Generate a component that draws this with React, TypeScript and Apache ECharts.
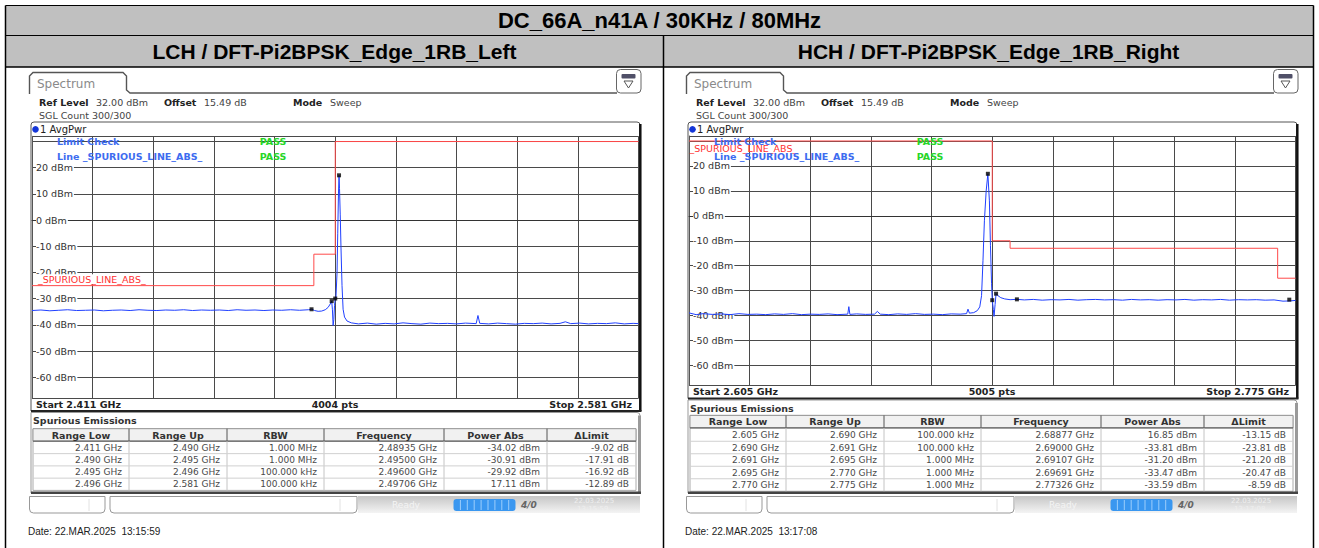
import React, { useEffect, useRef } from "react";
import * as echarts from "echarts";

// ---------------- data ----------------
const MAIN_TITLE = "DC_66A_n41A / 30KHz / 80MHz";
const PANEL_TITLES = ["LCH / DFT-Pi2BPSK_Edge_1RB_Left", "HCH / DFT-Pi2BPSK_Edge_1RB_Right"];
const REF_LEVEL = 32;
const BOTTOM_LEVEL = -68;
const LEFT_SPAN = [2.411, 2.581];
const RIGHT_SPAN = [2.605, 2.775];
const LEFT_PTS = "4004 pts";
const RIGHT_PTS = "5005 pts";
const LEFT_DATE = "Date: 22.MAR.2025  13:15:59";
const RIGHT_DATE = "Date: 22.MAR.2025  13:17:08";
const LEFT_STAMP = ["22.03.2025", "13:15:59"];
const RIGHT_STAMP = ["22.03.2025", "13:17:08"];

const TABLE_HEADERS = ["Range Low", "Range Up", "RBW", "Frequency", "Power Abs", "\u0394Limit"];

const leftRangeLow = ["2.411 GHz", "2.490 GHz", "2.495 GHz", "2.496 GHz"];
const leftRangeUp = ["2.490 GHz", "2.495 GHz", "2.496 GHz", "2.581 GHz"];
const leftRbw = ["1.000 MHz", "1.000 MHz", "100.000 kHz", "100.000 kHz"];
const leftFreq = ["2.48935 GHz", "2.49500 GHz", "2.49600 GHz", "2.49706 GHz"];
const leftPower = ["-34.02 dBm", "-30.91 dBm", "-29.92 dBm", "17.11 dBm"];
const leftDelta = ["-9.02 dB", "-17.91 dB", "-16.92 dB", "-12.89 dB"];

const rightRangeLow = ["2.605 GHz", "2.690 GHz", "2.691 GHz", "2.695 GHz", "2.770 GHz"];
const rightRangeUp = ["2.690 GHz", "2.691 GHz", "2.695 GHz", "2.770 GHz", "2.775 GHz"];
const rightRbw = ["100.000 kHz", "100.000 kHz", "1.000 MHz", "1.000 MHz", "1.000 MHz"];
const rightFreq = ["2.68877 GHz", "2.69000 GHz", "2.69107 GHz", "2.69691 GHz", "2.77326 GHz"];
const rightPower = ["16.85 dBm", "-33.81 dBm", "-31.20 dBm", "-33.47 dBm", "-33.59 dBm"];
const rightDelta = ["-13.15 dB", "-23.81 dB", "-21.20 dB", "-20.47 dB", "-8.59 dB"];

const leftLimit = [
  [2.411, -25], [2.490, -25], [2.490, -13], [2.496, -13], [2.496, 30], [2.581, 30],
];
const rightLimit = [
  [2.605, 30], [2.690, 30], [2.690, -10], [2.695, -10], [2.695, -13], [2.770, -13], [2.770, -25], [2.775, -25],
];

const leftTrace = [
  [2.411, -34.5], [2.4135, -34.3], [2.416, -34.6], [2.4185, -34.4], [2.421, -34.2], [2.4235, -34.5],
  [2.426, -34.4], [2.4285, -34.3], [2.431, -34.6], [2.4335, -34.4], [2.436, -34.3], [2.4385, -34.5],
  [2.441, -34.2], [2.4435, -34.4], [2.446, -34.5], [2.4485, -34.3], [2.451, -34.4], [2.4535, -34.2],
  [2.456, -34.5], [2.4585, -34.3], [2.461, -34.4], [2.4635, -34.3], [2.466, -34.5], [2.4685, -34.2],
  [2.471, -34.4], [2.4735, -34.3], [2.476, -34.5], [2.4785, -34.3], [2.481, -34.4], [2.4835, -34.2],
  [2.486, -34.4], [2.4885, -34.2], [2.4894, -34.0], [2.4902, -34.5], [2.4912, -34.8], [2.4922, -34.7],
  [2.4932, -34.2], [2.494, -33.3], [2.4946, -32.0], [2.495, -30.9], [2.4952, -34.0], [2.4954, -40.2],
  [2.4956, -38.0], [2.4958, -32.5], [2.496, -29.9], [2.4962, -29.5], [2.4965, -20.0], [2.4967, -5.0],
  [2.4969, 10.0], [2.49706, 17.1], [2.4972, 12.0], [2.4974, 2.0], [2.4976, -10.0], [2.4979, -25.0],
  [2.4982, -34.0], [2.4986, -37.0], [2.4993, -38.5], [2.5005, -39.2], [2.5025, -39.6], [2.505, -39.3],
  [2.5075, -39.7], [2.510, -39.4], [2.5125, -39.6], [2.515, -39.2], [2.5175, -39.5], [2.520, -39.7],
  [2.5225, -39.3], [2.525, -39.5], [2.5275, -39.4], [2.530, -39.6], [2.5325, -39.3], [2.5355, -39.5],
  [2.536, -36.4], [2.5365, -39.4], [2.539, -39.6], [2.5415, -39.3], [2.544, -39.5], [2.5465, -39.7],
  [2.549, -39.4], [2.5515, -39.5], [2.554, -39.3], [2.5565, -39.6], [2.559, -39.4], [2.5605, -38.8],
  [2.562, -39.5], [2.5645, -39.3], [2.567, -39.6], [2.5695, -39.4], [2.572, -39.5], [2.5745, -39.2],
  [2.577, -39.6], [2.5795, -39.4], [2.581, -39.5],
];

const rightTrace = [
  [2.605, -38.9], [2.607, -39.6], [2.609, -39.2], [2.6115, -39.5], [2.614, -39.3], [2.6165, -39.6],
  [2.619, -39.2], [2.6215, -39.5], [2.624, -39.4], [2.6265, -39.6], [2.629, -39.3], [2.6315, -39.5],
  [2.634, -39.2], [2.6365, -39.6], [2.639, -39.4], [2.6415, -39.5], [2.644, -39.3], [2.6465, -39.6],
  [2.6495, -39.4], [2.6498, -36.4], [2.6501, -39.5], [2.652, -39.3], [2.6545, -39.5], [2.657, -39.4],
  [2.6578, -38.3], [2.6586, -39.4], [2.661, -39.6], [2.6635, -39.3], [2.666, -39.5], [2.6685, -39.2],
  [2.671, -39.5], [2.6735, -39.4], [2.676, -39.6], [2.6785, -39.3], [2.681, -39.4], [2.6828, -39.2],
  [2.6832, -37.4], [2.6836, -39.0], [2.6848, -38.8], [2.6858, -38.0], [2.6865, -36.5], [2.687, -32.0],
  [2.6874, -18.0], [2.6878, -2.0], [2.6883, 10.0], [2.68877, 16.85], [2.6892, 6.0], [2.6895, -12.0],
  [2.6898, -27.0], [2.69, -33.8], [2.6903, -37.5], [2.6905, -40.3], [2.6908, -35.5], [2.69107, -31.2],
  [2.6916, -32.0], [2.6924, -32.8], [2.6935, -33.3], [2.695, -33.6], [2.69691, -33.47], [2.699, -33.7],
  [2.7015, -33.5], [2.704, -33.8], [2.7065, -33.6], [2.709, -33.7], [2.7115, -33.5], [2.714, -33.8],
  [2.7165, -33.6], [2.719, -33.5], [2.7215, -33.7], [2.724, -33.6], [2.7265, -33.8], [2.729, -33.5],
  [2.7315, -33.7], [2.734, -33.6], [2.7365, -33.8], [2.739, -33.6], [2.7415, -33.7], [2.744, -33.5],
  [2.7465, -33.8], [2.749, -33.6], [2.7515, -33.7], [2.754, -33.5], [2.7565, -33.8], [2.759, -33.6],
  [2.7615, -33.7], [2.764, -33.6], [2.7665, -33.8], [2.769, -33.7], [2.7715, -34.2], [2.7735, -34.1],
  [2.775, -33.9],
];

// ---------------- layout helpers ----------------
const RS_FONT = '"DejaVu Sans"';
const ARIAL = '"Liberation Sans", Arial';

function txt(x: number, y: number, text: string, o: any = {}) {
  const size = o.size ?? 9.5;
  const align = o.align ?? "left";
  const va = o.va ?? "middle";
  const style: any = {
    text,
    fill: o.color ?? "#333",
    font: `${o.italic ? "italic " : ""}${o.bold ? "bold " : ""}${size}px ${o.family ?? RS_FONT}`,
    align,
    verticalAlign: va,
    textAlign: align,
    textVerticalAlign: va,
  };
  if (o.bg) {
    style.backgroundColor = o.bg;
    style.padding = [0, 1];
  }
  return { type: "text", x, y, z: o.z ?? 20, silent: true, style };
}
function ln(x1: number, y1: number, x2: number, y2: number, stroke: string, lineWidth = 1, z = 15) {
  return { type: "line", z, silent: true, shape: { x1, y1, x2, y2 }, style: { stroke, lineWidth } };
}
function rc(x: number, y: number, width: number, height: number, style: any, r: any = 0, z = 5) {
  return { type: "rect", z, silent: true, shape: { x, y, width, height, r }, style };
}

type Panel = {
  ox: number;
  span: number[];
  trace: number[][];
  limit: number[][];
  cols: string[][];
  pts: string;
  date: string;
  stamp: string[];
  gridTop: number;
  gridBottom: number;
  startY: number;
  frameBottom: number;
  seY: number;
  headerY: number;
  rowY0: number;
  rowH: number;
  red: { x: number; y: number; bg: boolean };
};

const panels: Panel[] = [
  {
    ox: 0,
    span: LEFT_SPAN,
    trace: leftTrace,
    limit: leftLimit,
    cols: [leftRangeLow, leftRangeUp, leftRbw, leftFreq, leftPower, leftDelta],
    pts: LEFT_PTS,
    date: LEFT_DATE,
    stamp: LEFT_STAMP,
    gridTop: 136.3,
    gridBottom: 398.3,
    startY: 404,
    frameBottom: 411,
    seY: 420,
    headerY: 435,
    rowY0: 447.5,
    rowH: 12.25,
    red: { x: 37, y: 279.3, bg: true },
  },
  {
    ox: 657,
    span: RIGHT_SPAN,
    trace: rightTrace,
    limit: rightLimit,
    cols: [rightRangeLow, rightRangeUp, rightRbw, rightFreq, rightPower, rightDelta],
    pts: RIGHT_PTS,
    date: RIGHT_DATE,
    stamp: RIGHT_STAMP,
    gridTop: 136,
    gridBottom: 385.5,
    startY: 391.8,
    frameBottom: 398.5,
    seY: 408.3,
    headerY: 421.7,
    rowY0: 435,
    rowH: 12.5,
    red: { x: 32.5, y: 148.3, bg: false },
  },
];

const COLX = [33, 129, 227, 324, 444, 547, 636];

function panelGraphics(p: Panel) {
  const ox = p.ox;
  const els: any[] = [];
  // tab
  els.push({
    type: "polyline",
    z: 6,
    silent: true,
    shape: {
      points: [
        [ox + 29.5, 94], [ox + 29.5, 76], [ox + 33, 72.5], [ox + 123, 72.5], [ox + 126.5, 76],
        [ox + 126.5, 90], [ox + 130, 93], [ox + 617, 93],
      ],
    },
    style: { stroke: "#555", lineWidth: 1.4, fill: null },
  });
  els.push(txt(ox + 37, 83.5, "Spectrum", { size: 12, color: "#8a8a8a" }));
  // icon
  els.push(rc(ox + 616.5, 69.5, 24.5, 23.5, { fill: "#fff", stroke: "#666", lineWidth: 1 }, 4, 6));
  els.push(rc(ox + 621.5, 74, 14, 4.5, { fill: "#505068" }, 1, 7));
  els.push({
    type: "polygon", z: 7, silent: true,
    shape: { points: [[ox + 624, 81], [ox + 633, 81], [ox + 628.5, 88]] },
    style: { fill: "none", stroke: "#555", lineWidth: 1 },
  });
  // header texts
  els.push(txt(ox + 39, 102.7, "Ref Level", { bold: true, color: "#222" }));
  els.push(txt(ox + 96, 102.7, "32.00 dBm", { color: "#444" }));
  els.push(txt(ox + 164, 102.7, "Offset", { bold: true, color: "#222" }));
  els.push(txt(ox + 204, 102.7, "15.49 dB", { color: "#444" }));
  els.push(txt(ox + 293, 102.7, "Mode", { bold: true, color: "#222" }));
  els.push(txt(ox + 330, 102.7, "Sweep", { color: "#444" }));
  els.push(txt(ox + 39, 115, "SGL Count 300/300", { color: "#444" }));
  // plot frame
  els.push(rc(ox + 31, 122, 609, p.frameBottom - 122, { fill: "none", stroke: "#555", lineWidth: 1 }, [3, 3, 0, 0], 6));
  els.push(ln(ox + 640.3, 124, ox + 640.3, p.frameBottom, "#111", 2.5, 16));
  els.push(ln(ox + 31, p.frameBottom, ox + 641.5, p.frameBottom, "#222", 2, 16));
  els.push({ type: "circle", z: 20, silent: true, shape: { cx: ox + 35.5, cy: 129.3, r: 3.3 }, style: { fill: "#1436d8" } });
  els.push(txt(ox + 40, 129.3, "1 AvgPwr", { color: "#222", size: 10 }));
  // in-grid annotations
  els.push(txt(ox + p.red.x, p.red.y, "_SPURIOUS_LINE_ABS_", { color: "#ff3030", bg: p.red.bg ? "#fff" : undefined, z: 22 }));
  els.push(txt(ox + 57, 141.7, "Limit Check", { color: "#3d6cf0", bold: true, z: 23 }));
  els.push(txt(ox + 57, 156, "Line _SPURIOUS_LINE_ABS_", { color: "#3d6cf0", bold: true, z: 23 }));
  els.push(txt(ox + 259.7, 141.7, "PASS", { color: "#27d627", bold: true, z: 23 }));
  els.push(txt(ox + 259.7, 156, "PASS", { color: "#27d627", bold: true, z: 23 }));
  // start / stop row
  els.push(txt(ox + 36, p.startY, `Start ${p.span[0].toFixed(3)} GHz`, { bold: true, color: "#222" }));
  els.push(txt(ox + 335, p.startY, p.pts, { bold: true, color: "#222", align: "center" }));
  els.push(txt(ox + 632, p.startY, `Stop ${p.span[1].toFixed(3)} GHz`, { bold: true, color: "#222", align: "right" }));
  // table frame
  const tfTop = p.frameBottom + 1.5;
  els.push(rc(ox + 31, tfTop, 609, 493 - tfTop, { fill: "#fff", stroke: "#999", lineWidth: 1 }, [0, 3, 0, 0], 4));
  els.push(ln(ox + 639.5, tfTop + 3, ox + 639.5, 493, "#9a9a9a", 3, 8));
  els.push(ln(ox + 31, 492.8, ox + 641, 492.8, "#444", 2.5, 8));
  els.push(txt(ox + 33, p.seY, "Spurious Emissions", { bold: true, color: "#333" }));
  const hTop = p.headerY - 6.3;
  const hBot = p.headerY + 6.2;
  const nRows = p.cols[0].length;
  const tBot = p.rowY0 + (nRows - 0.5) * p.rowH;
  els.push(rc(ox + COLX[0], hTop, COLX[6] - COLX[0], tBot - hTop, { fill: "#fff", stroke: "#aaa", lineWidth: 1 }, 0, 7));
  els.push(rc(ox + COLX[0], hTop, COLX[6] - COLX[0], hBot - hTop, { fill: "#f1f1f1", stroke: "#999", lineWidth: 1 }, 0, 8));
  els.push(ln(ox + COLX[0], hBot, ox + COLX[6], hBot, "#666", 1.2, 9));
  for (let i = 1; i < 6; i++) {
    els.push(ln(ox + COLX[i], hTop, ox + COLX[i], hBot, "#555", 1, 9));
    els.push(ln(ox + COLX[i], hBot, ox + COLX[i], tBot, "#c4c4c4", 1, 9));
  }
  for (let i = 0; i < 6; i++) {
    els.push(txt(ox + (COLX[i] + COLX[i + 1]) / 2, p.headerY, TABLE_HEADERS[i], { bold: true, color: "#333", align: "center" }));
  }
  for (let r = 0; r < nRows; r++) {
    const y = p.rowY0 + r * p.rowH;
    if (r < nRows - 1) els.push(ln(ox + COLX[0], y + p.rowH / 2, ox + COLX[6], y + p.rowH / 2, "#d0d0d0", 1, 9));
    for (let c = 0; c < 6; c++) {
      els.push(txt(ox + COLX[c + 1] - 7, y, p.cols[c][r], { color: "#4a4a4a", align: "right", size: 9 }));
    }
  }
  // status bar
  els.push(rc(ox + 29.5, 496.5, 75.5, 16.5, { fill: "#fff", stroke: "#999", lineWidth: 1 }, [0, 0, 4, 4], 6));
  els.push(ln(ox + 89, 499, ox + 89, 511, "#e2e2e2", 1, 7));
  els.push(rc(ox + 110, 496.5, 247, 16.5, { fill: "#fff", stroke: "#999", lineWidth: 1 }, [0, 0, 4, 4], 6));
  els.push(ln(ox + 340, 499, ox + 340, 511, "#e2e2e2", 1, 7));
  els.push(rc(ox + 358, 496, 282, 17, {
    fill: { type: "linear", x: 0, y: 0, x2: 0, y2: 1, colorStops: [{ offset: 0, color: "#c6c6c6" }, { offset: 1, color: "#f4f4f4" }] },
  }, 0, 5));
  els.push(txt(ox + 392, 505, "Ready", { color: "#f4f4f4", size: 9 }));
  els.push(rc(ox + 453.5, 499, 62, 12, { fill: "#3a97f0" }, 3, 7));
  for (let i = 1; i < 9; i++) {
    els.push(ln(ox + 453.5 + i * 6.9, 500, ox + 453.5 + i * 6.9, 510, "#9ccdfb", 1, 8));
  }
  els.push(txt(ox + 521, 505, "4/0", { color: "#666", bold: true, italic: true, size: 9 }));
  els.push(txt(ox + 574, 501, p.stamp[0], { color: "#efefef", size: 7 }));
  els.push(txt(ox + 577, 509, p.stamp[1], { color: "#efefef", size: 7 }));
  // date
  els.push(txt(ox + 28, 531.7, p.date, { family: ARIAL, size: 10, color: "#222" }));
  return els;
}

function buildOption() {
  const graphics: any[] = [];
  // title table
  graphics.push(rc(5.5, 5.5, 1308, 61.5, { fill: "#c0c0c0" }, 0, 1));
  graphics.push(ln(5.5, 5.5, 1313.5, 5.5, "#000", 1.2, 3));
  graphics.push(ln(5.5, 35.5, 1313.5, 35.5, "#000", 1.2, 3));
  graphics.push(ln(5.5, 67, 1313.5, 67, "#000", 1.5, 3));
  graphics.push(ln(5.5, 5.5, 5.5, 548, "#000", 1.5, 3));
  graphics.push(ln(1313.5, 5.5, 1313.5, 548, "#000", 1.5, 3));
  graphics.push(ln(663.5, 35.5, 663.5, 548, "#000", 1.5, 3));
  graphics.push(txt(659.5, 20.5, MAIN_TITLE, { family: ARIAL, bold: true, size: 22, color: "#000", align: "center" }));
  graphics.push(txt(334.5, 51.5, PANEL_TITLES[0], { family: ARIAL, bold: true, size: 21, color: "#000", align: "center" }));
  graphics.push(txt(988.5, 51.5, PANEL_TITLES[1], { family: ARIAL, bold: true, size: 21, color: "#000", align: "center" }));
  panels.forEach((p) => graphics.push(...panelGraphics(p)));

  const grids: any[] = [];
  const xAxes: any[] = [];
  const yAxes: any[] = [];
  const series: any[] = [];
  panels.forEach((p, i) => {
    grids.push({ left: p.ox + 32, top: p.gridTop, width: 606.5, height: p.gridBottom - p.gridTop });
    xAxes.push({
      gridIndex: i, type: "value", position: "bottom", min: 0, max: 10, interval: 1,
      axisLine: { show: true, lineStyle: { color: "#333", width: 1 } },
      axisTick: { show: false }, axisLabel: { show: false },
      splitLine: { show: true, lineStyle: { color: "#4a4a4a", width: 1 } },
    });
    xAxes.push({ gridIndex: i, type: "value", min: p.span[0], max: p.span[1], show: false });
    yAxes.push({
      gridIndex: i, type: "value", min: BOTTOM_LEVEL, max: REF_LEVEL, splitNumber: 10,
      axisLine: { show: true, lineStyle: { color: "#555" } },
      axisTick: { show: false },
      axisLabel: {
        inside: true, margin: 4, color: "#333", fontSize: 9.5, fontFamily: "DejaVu Sans",
        showMinLabel: false, showMaxLabel: false,
        backgroundColor: "#fff", padding: [0, 1, 0, 0],
        formatter: (v: number) => (v > 25 || v < -65 ? "" : `${v} dBm`),
      },
      splitLine: { show: true, lineStyle: { color: "#4a4a4a", width: 1 } },
    });
    const xi = i * 2 + 1;
    series.push({
      type: "line", xAxisIndex: xi, yAxisIndex: i, data: p.limit, symbol: "none", silent: true,
      lineStyle: { color: "#ff4a4a", width: 1 }, z: 3,
    });
    series.push({
      type: "line", xAxisIndex: xi, yAxisIndex: i, data: p.trace, symbol: "none", silent: true,
      lineStyle: { color: "#2040ff", width: 1 }, z: 4,
    });
    const markers = p.cols[3].map((f, k) => [parseFloat(f), parseFloat(p.cols[4][k])]);
    series.push({
      type: "scatter", xAxisIndex: xi, yAxisIndex: i, data: markers, symbol: "rect", symbolSize: 4,
      silent: true, itemStyle: { color: "#000" }, z: 5,
    });
  });

  return {
    animation: false,
    backgroundColor: "#fff",
    grid: grids,
    xAxis: xAxes,
    yAxis: yAxes,
    series,
    graphic: { elements: graphics },
  };
}

export default function App() {
  const ref = useRef<HTMLDivElement>(null);
  useEffect(() => {
    if (!ref.current) return;
    const chart = echarts.init(ref.current, undefined, { renderer: "svg" });
    chart.setOption(buildOption() as any);
    return () => chart.dispose();
  }, []);
  return (
    <div
      ref={ref}
      style={{ position: "absolute", left: 0, top: 0, width: 1319, height: 548 }}
    />
  );
}
